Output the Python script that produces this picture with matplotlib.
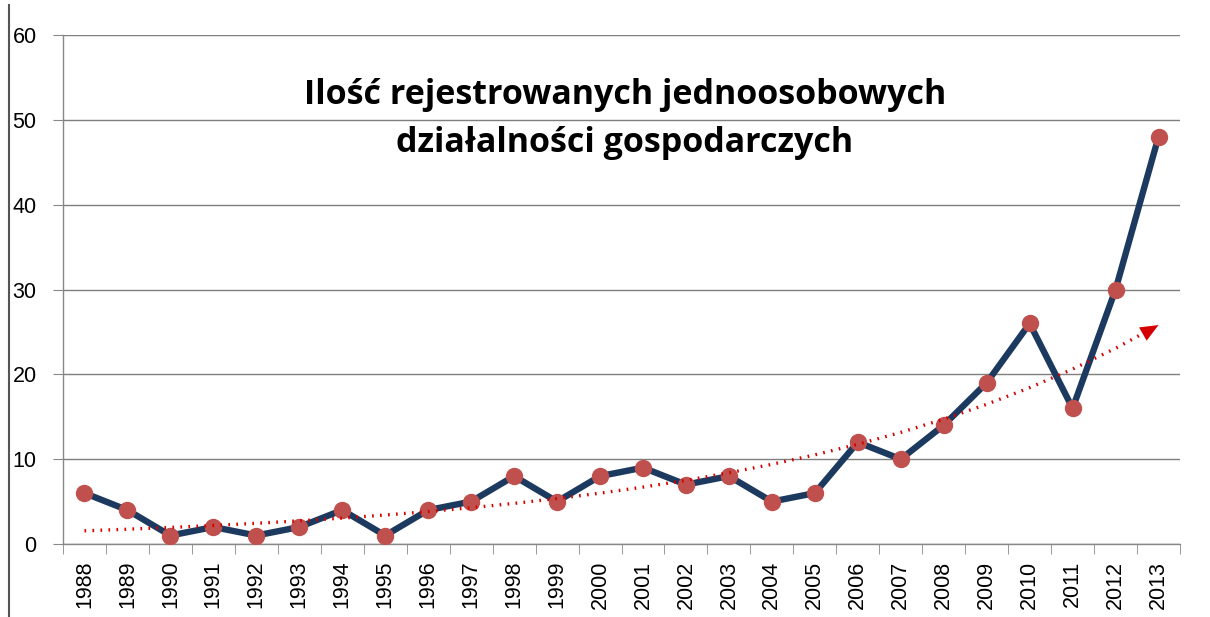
import numpy as np
import matplotlib
matplotlib.use("Agg")
import matplotlib.pyplot as plt
from matplotlib.lines import Line2D

# data
years = [1988, 1989, 1990, 1991, 1992, 1993, 1994, 1995, 1996, 1997, 1998, 1999, 2000,
         2001, 2002, 2003, 2004, 2005, 2006, 2007, 2008, 2009, 2010, 2011, 2012, 2013]
counts = [6, 4, 1, 2, 1, 2, 4, 1, 4, 5, 8, 5, 8,
          9, 7, 8, 5, 6, 12, 10, 14, 19, 26, 16, 30, 48]
yticks = [0, 10, 20, 30, 40, 50, 60]
title = "Ilość rejestrowanych jednoosobowych\ndziałalności gospodarczych"

plt.rcParams['font.family'] = ['Liberation Sans', 'DejaVu Sans']

fig = plt.figure(figsize=(12.1, 6.17), dpi=100)
ax = fig.add_axes([63/1210, 1-544/617, (1180-63)/1210, (544-35)/617])

x = np.arange(len(years))

# exponential trend (as the spreadsheet does it: fit on log values)
b, a = np.polyfit(x, np.log(counts), 1)
trend = np.exp(a + b*x)

ax.plot(x, counts, color="#1c3a5f", lw=4.6, zorder=3, solid_joinstyle="miter")
ax.plot(x, counts, ls="none", marker="o", ms=11.5, color="#c0504d", zorder=4)
ax.plot(x, trend, color="#d40000", lw=2.4, ls=(0, (0.5, 1.9)), zorder=5)
ax.annotate("", xy=(x[-1], trend[-1]), xytext=(x[-1]-0.5, trend[-1]-0.5*b*trend[-1]),
            arrowprops=dict(arrowstyle="-|>,head_length=1.3,head_width=0.55",
                            color="#d40000", lw=0, shrinkA=0, shrinkB=0), zorder=6)

ax.set_xlim(-0.5, len(years)-0.5)
ax.set_ylim(0, 60)
ax.set_yticks(yticks)
ax.set_yticklabels([str(v) for v in yticks], fontsize=15.5)
ax.set_xticks(x)
ax.set_xticklabels([str(y) for y in years], rotation=90, fontsize=15.5)
ax.set_xticks(np.arange(-0.5, len(years), 1), minor=True)
ax.tick_params(axis="x", which="major", length=0, pad=12)
ax.tick_params(axis="x", which="minor", length=7, color="#888888")
ax.tick_params(axis="y", length=7, color="#888888", pad=12)

ax.grid(axis="y", color="#7f7f7f", lw=1)
ax.set_axisbelow(True)
for s in ["top", "right"]:
    ax.spines[s].set_visible(False)
for s in ["left", "bottom"]:
    ax.spines[s].set_color("#888888")
    ax.spines[s].set_linewidth(1)

fig.text(625/1210, 1-119/617, title, ha="center", va="center", fontsize=24.5,
         fontweight="bold", family=["Open Sans", "DejaVu Sans"], linespacing=1.5)

# frame edge on the left of the original screenshot
fig.add_artist(Line2D([9/1210, 9/1210], [0, 1-5/617], color="#555555", lw=1.5))

fig.savefig("out.png", dpi=100)
